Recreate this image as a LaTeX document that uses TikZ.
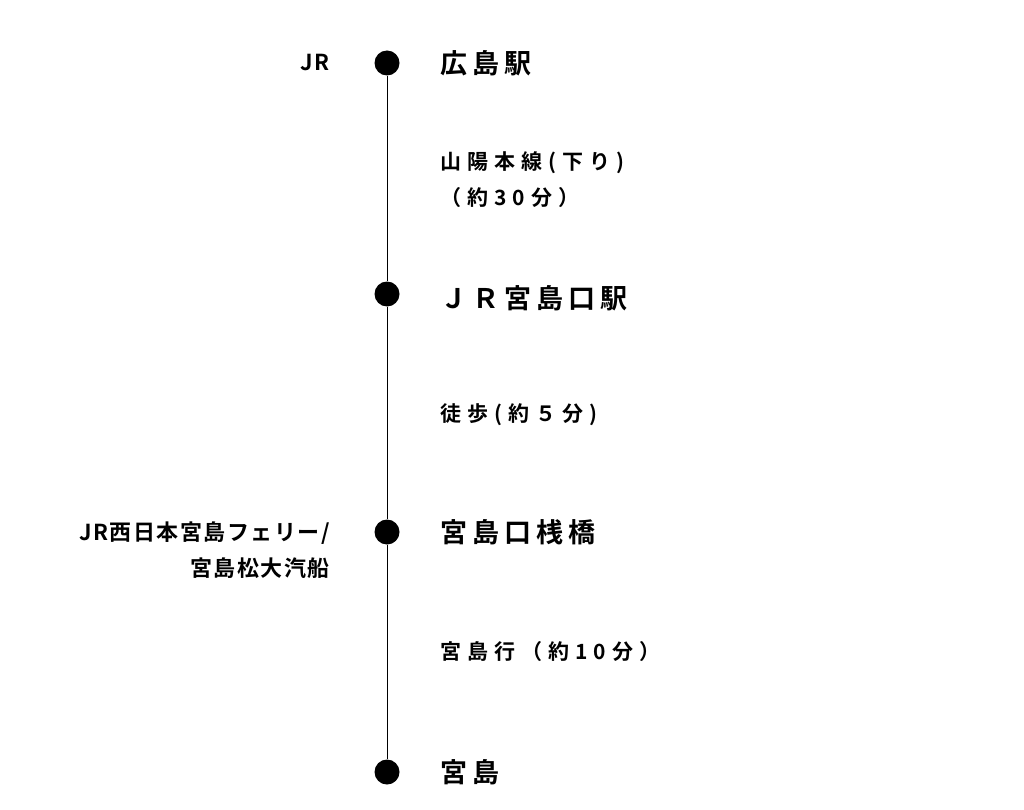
\documentclass[tikz,border=0pt]{standalone}
\usepackage{fontspec}
\setmainfont{Noto Sans CJK JP}[BoldFont={* Bold}]
% spread the letters of a text
\def\lsgap{0pt}
\def\spread#1{\spreadx#1\relax}
\def\spreadx#1{\ifx#1\relax\else#1\kern\lsgap\relax\expandafter\spreadx\fi}
\begin{document}
\begin{tikzpicture}[x=1pt,y=-1pt,
  stop/.style={circle,fill=black,inner sep=0pt,minimum size=25pt},
  station/.style={anchor=west,font=\fontsize{27}{30}\selectfont\bfseries\def\lsgap{5pt}},
  leg/.style={anchor=west,align=left,font=\fontsize{21}{36}\selectfont\bfseries\def\lsgap{6pt}},
  line/.style={anchor=east,align=right,font=\fontsize{22}{36}\selectfont\bfseries\def\lsgap{1.5pt}}]
\useasboundingbox (0,0) rectangle (1024,810);
%Stops
\node[stop] (s1) at (387,63) {};
\node[stop] (s2) at (387,294) {};
\node[stop] (s3) at (387,532) {};
\node[stop] (s4) at (387,772) {};
\draw[thick] (s1) -- (s2) -- (s3) -- (s4);

%Station names
\node[station] (n1) at (437,63) {\spread{広島駅}};
\node[station] (n2) at (437,298) {\spread{ＪＲ宮島口駅}};
\node[station] (n3) at (437,532) {\spread{宮島口桟橋}};
\node[station] (n4) at (437,772) {\spread{宮島}};

%Legs
\node[leg] (l1) at (437,180) {\spread{山陽本線(下り)}\\\spread{（約30分）}};
\node[leg] (l2) at (437,415) {\spread{徒歩(約５分)}};
\node[leg] (l3) at (437,652) {\spread{宮島行（約10分）}};

%Lines
\node[line] (r1) at (335,63) {\spread{JR}};
\node[line] (r2) at (335,550) {\spread{JR西日本宮島フェリー/}\\\spread{宮島松大汽船}};
\end{tikzpicture}
\end{document}
